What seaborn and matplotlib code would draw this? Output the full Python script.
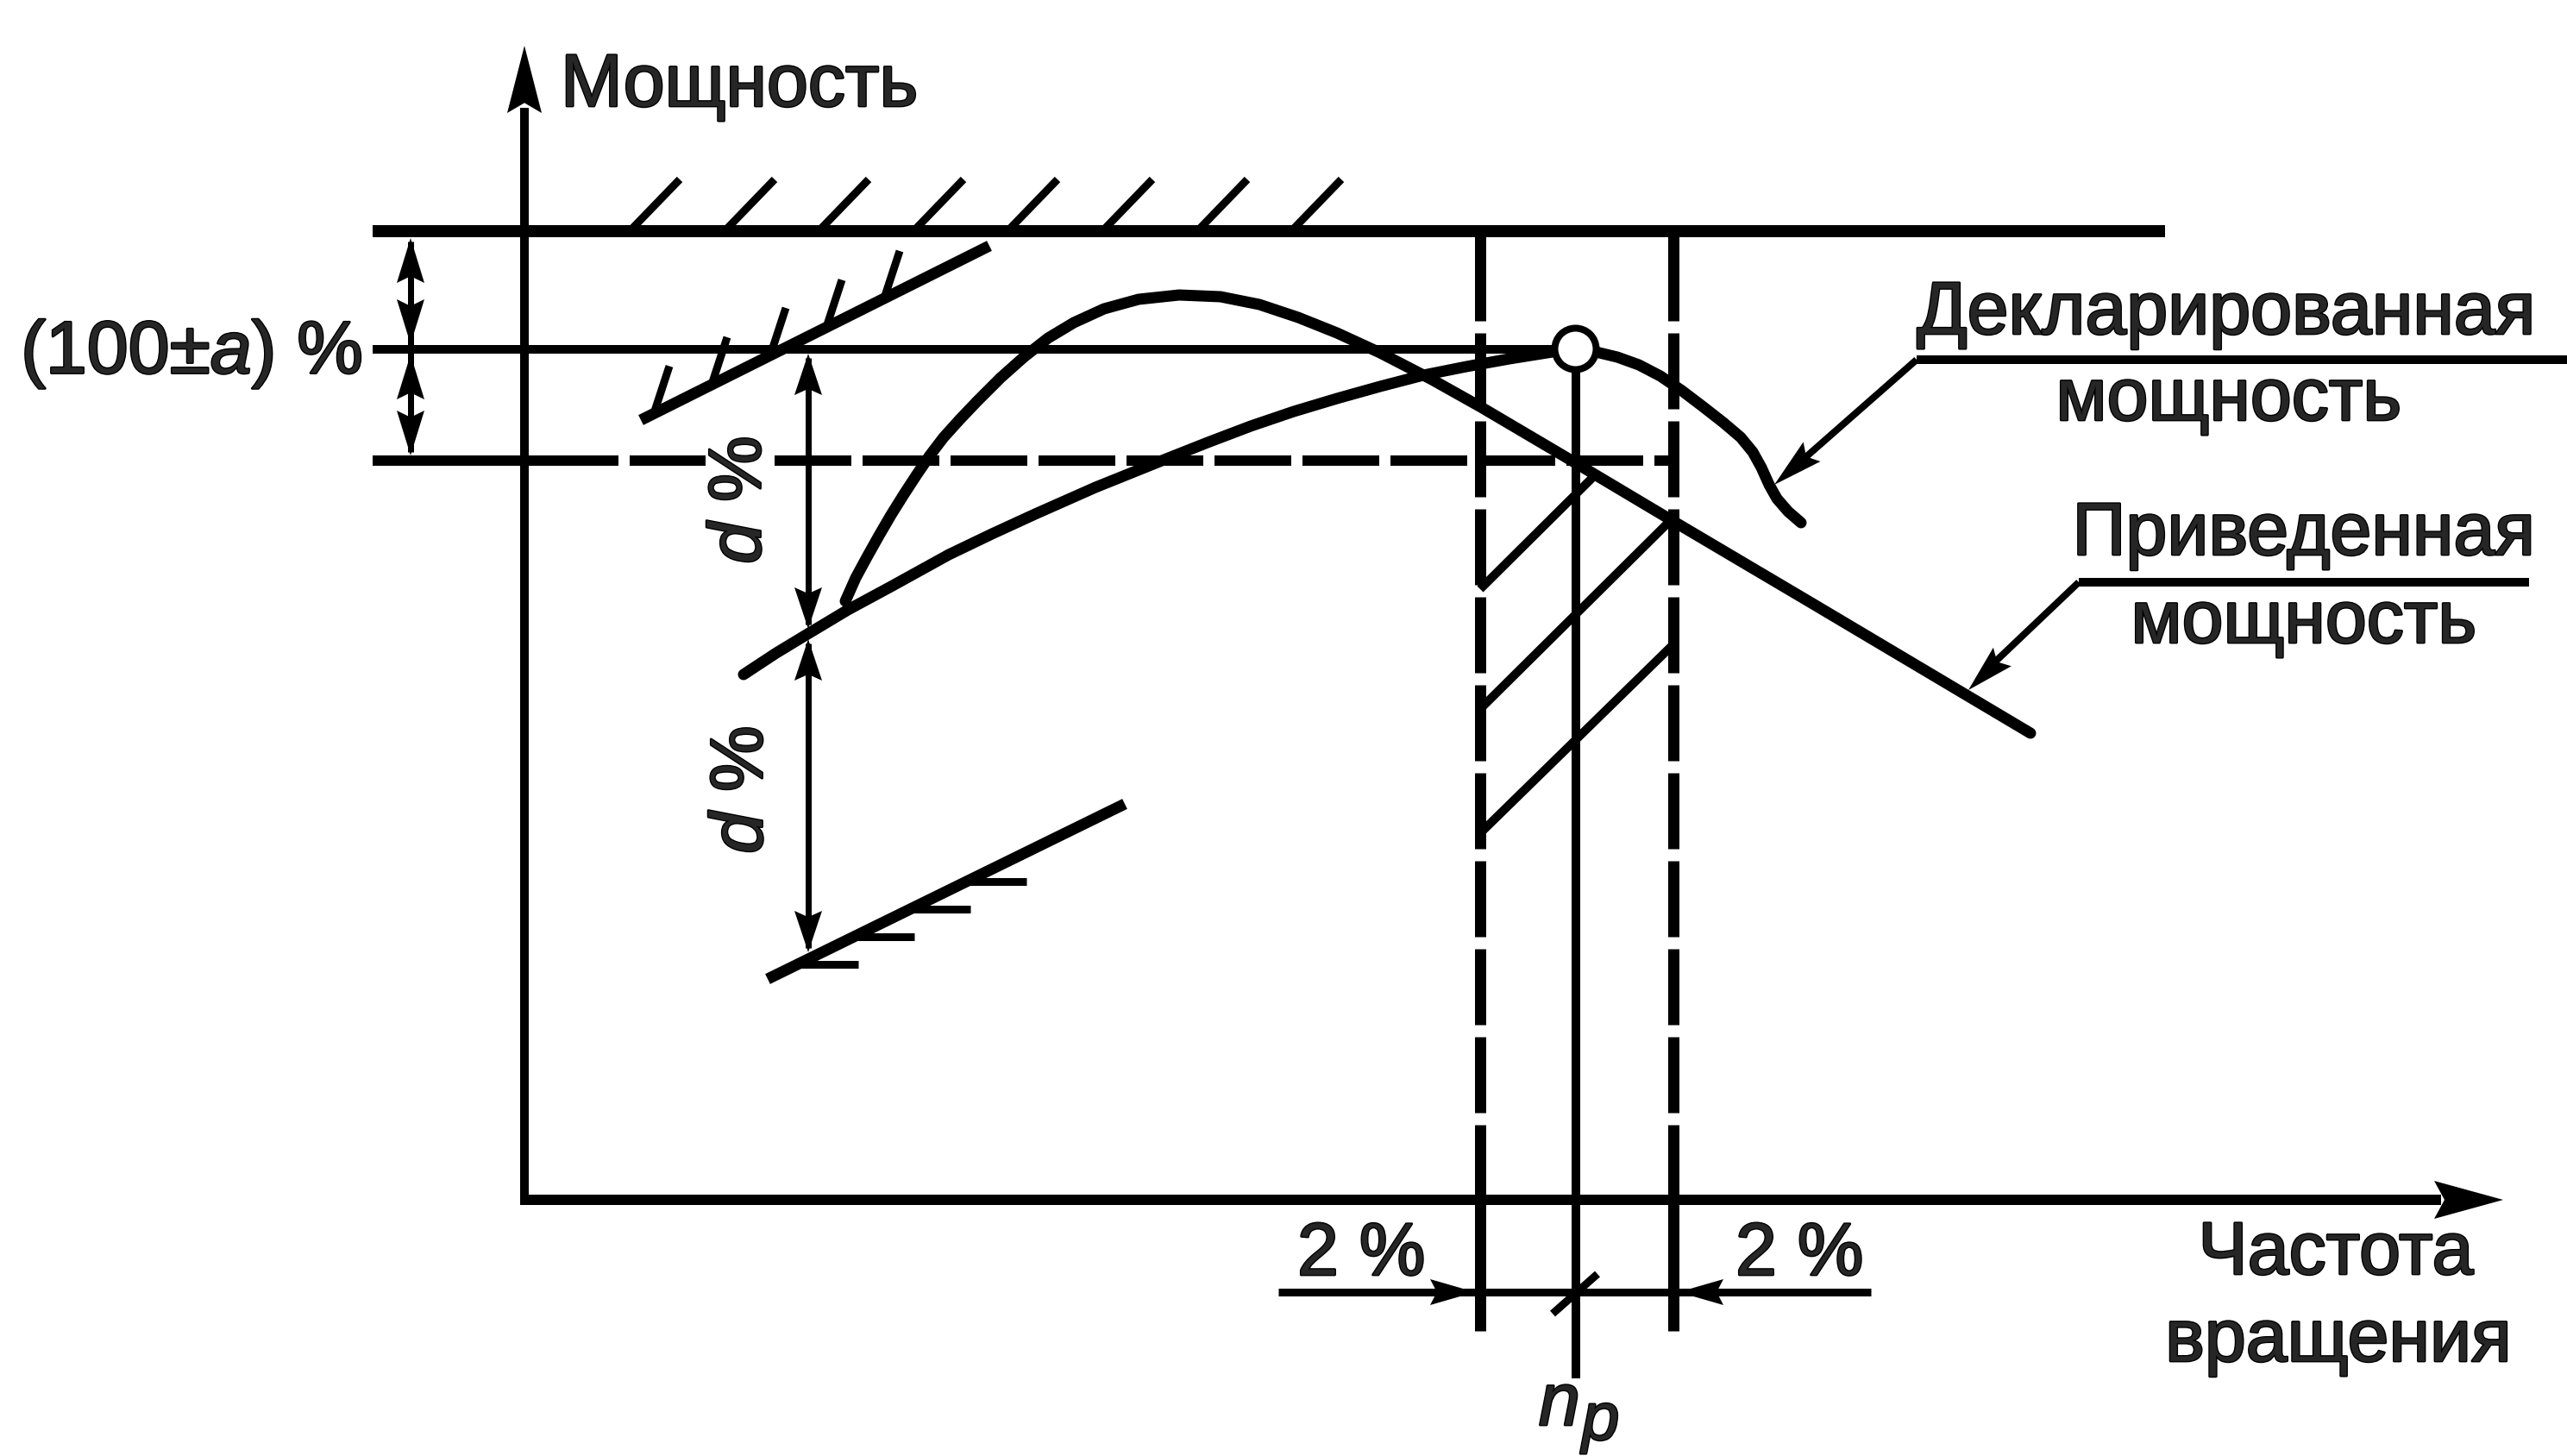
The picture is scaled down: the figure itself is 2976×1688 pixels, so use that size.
import matplotlib
matplotlib.use("Agg")
import matplotlib.pyplot as plt
import matplotlib.patheffects as pe
import seaborn as sns

# the drawing is laid out on the pixel grid of the original sheet (y grows downward)
W, H, DPI = 2976, 1688, 100

# power levels (rows) and the coordinate axes
axis_x, axis_y = 608, 1391
top_level = 268          # upper limit
nominal_level = 405      # (100 +- a) %
low_level = 534          # lower tolerance (dashed)
left_start = 432

# speed band around n_p
band_left, band_right = 1716, 1940
n_p = 1827
dim_row = 1498

# reduced power curve ("Приведенная мощность")
reduced_x = [980, 992, 1005, 1019, 1033, 1048, 1063, 1078, 1094, 1113, 1133, 1160, 1187, 1215,
             1245, 1280, 1320, 1367, 1415, 1460, 1505, 1550, 1600, 1660, 1717, 1817, 1936, 2100, 2354]
reduced_y = [697, 670, 646, 621, 597, 573, 550, 528, 507, 486, 465, 438, 414, 392,
             374, 358, 347, 342, 344, 353, 368, 386, 409, 440, 472, 531, 602, 699, 850]

# declared power curve ("Декларированная мощность")
declared_x = [862, 900, 933, 983, 1033, 1100, 1150, 1200, 1270, 1347, 1400, 1450, 1500, 1550,
              1600, 1650, 1700, 1750, 1800, 1826, 1850, 1875, 1900, 1925, 1950, 1975, 1998,
              2018, 2032, 2042, 2051, 2060, 2073, 2088]
declared_y = [782, 757, 737, 707, 680, 643, 619, 596, 565, 534, 513, 494, 477, 462,
              448, 435, 425, 416, 408, 404, 408, 414, 423, 436, 453, 472, 490,
              507, 524, 542, 562, 578, 593, 606]
declared_point = (1826, 404)

# limit lines for the d % tolerance
upper_limit_x, upper_limit_y = [743, 1147], [487, 285]
lower_limit_x, lower_limit_y = [890, 1304], [1135, 932]

# hatch ticks
top_hatch_x = [730, 840, 949, 1059, 1168, 1278, 1388, 1497]
upper_hatch_x = [758, 825, 893, 958, 1025]
lower_hatch_x = [925, 990, 1055, 1120]
band_hatch = [((1716, 683), (1850, 550)),
              ((1716, 822), (1940, 600)),
              ((1716, 966), (1940, 747))]

# d % dimension lines
d_x = 937
d_marks = [410, 729, 741, 1104]

# callouts
labels_declared = ["Декларированная", "мощность"]
labels_reduced = ["Приведенная", "мощность"]
label_speed = ["Частота", "вращения"]
label_power = "Мощность"

FS = 62
BLACK = "black"
HEAVY = [pe.withStroke(linewidth=2.0, foreground=BLACK)]


def pt(px):
    return px * 72.0 / DPI


def head(ax, tip, toward, length=50, half=15):
    # filled arrowhead with a small notch, pointing from 'toward' to 'tip'
    tx, ty = tip
    dx, dy = tx - toward[0], ty - toward[1]
    n = (dx * dx + dy * dy) ** 0.5
    dx, dy = dx / n, dy / n
    bx, by = tx - dx * length, ty - dy * length
    mx, my = tx - dx * length * 0.85, ty - dy * length * 0.85
    nx, ny = -dy, dx
    ax.fill([tx, bx + nx * half, mx, bx - nx * half],
            [ty, by + ny * half, my, by - ny * half],
            color=BLACK, lw=0, zorder=6)


def seg(ax, xs, ys, w, **kw):
    ax.plot(xs, ys, color=BLACK, lw=pt(w), solid_capstyle="butt", **kw)


def label(ax, x, y, s, **kw):
    kw.setdefault("fontsize", FS)
    kw.setdefault("va", "baseline")
    ax.text(x, y, s, path_effects=HEAVY, **kw)


def line_y(xs, ys, x):
    return ys[0] + (ys[1] - ys[0]) * (x - xs[0]) / (xs[1] - xs[0])


def main():
    sns.set_theme(style="white")
    plt.rcParams["font.family"] = ["Liberation Sans", "DejaVu Sans"]
    plt.rcParams["mathtext.fontset"] = "custom"
    plt.rcParams["mathtext.rm"] = "Liberation Sans"
    plt.rcParams["mathtext.it"] = "Liberation Sans:italic"
    plt.rcParams["lines.scale_dashes"] = False

    fig = plt.figure(figsize=(W / DPI, H / DPI), dpi=DPI)
    ax = fig.add_axes([0, 0, 1, 1])
    ax.set_xlim(0, W)
    ax.set_ylim(H, 0)
    ax.axis("off")

    # axes with arrows
    seg(ax, [axis_x, axis_x], [axis_y + 6, 125], 10)
    head(ax, (axis_x, 53), (axis_x, 200), length=78, half=20)
    seg(ax, [axis_x - 5, 2830], [axis_y, axis_y], 12)
    head(ax, (2902, axis_y), (2700, axis_y), length=80, half=22)
    label(ax, 650, 123, label_power, ha="left")

    # horizontal levels
    seg(ax, [left_start, 2510], [top_level, top_level], 14)
    seg(ax, [left_start, 1805], [nominal_level, nominal_level], 10)
    ax.plot([left_start, band_right], [low_level, low_level], color=BLACK, lw=pt(12),
            dashes=[pt(v) for v in [285, 13, 88, 80] + [89, 13] * 20])

    # hatching over the upper limit
    for x in top_hatch_x:
        seg(ax, [x, x + 58], [top_level, top_level - 60], 9)

    # vertical band lines (dashed) and n_p
    vdash = [pt(v) for v in [104, 14] + [88, 14] * 9 + [400, 10]]
    for x in (band_left, band_right):
        ax.plot([x, x], [top_level, 1543], color=BLACK, lw=pt(13), dashes=vdash)
    seg(ax, [n_p, n_p], [declared_point[1], 1598], 10)

    # hatching in the band below the tolerance
    for (x0, y0), (x1, y1) in band_hatch:
        seg(ax, [x0, x1], [y0, y1], 10)

    # limit lines for d % with their hatching
    seg(ax, upper_limit_x, upper_limit_y, 13)
    for x in upper_hatch_x:
        y = line_y(upper_limit_x, upper_limit_y, x)
        seg(ax, [x, x + 18], [y, y - 55], 9)
    seg(ax, lower_limit_x, lower_limit_y, 13)
    for x in lower_hatch_x:
        y = line_y(lower_limit_x, lower_limit_y, x)
        seg(ax, [x, x + 70], [y, y], 9)

    # power curves
    sns.lineplot(x=reduced_x, y=reduced_y, sort=False, estimator=None, color=BLACK,
                 linewidth=pt(13), ax=ax, zorder=4)
    sns.lineplot(x=declared_x, y=declared_y, sort=False, estimator=None, color=BLACK,
                 linewidth=pt(13), ax=ax, zorder=4)
    ax.plot(*declared_point, "o", ms=pt(48), mfc="white", mec=BLACK, mew=pt(8), zorder=7)

    # (100 +- a) % dimension
    seg(ax, [476, 476], [280, 524], 7)
    head(ax, (476, 276), (476, 330), length=52, half=16)
    head(ax, (476, 399), (476, 340), length=52, half=16)
    head(ax, (476, 411), (476, 470), length=52, half=16)
    head(ax, (476, 528), (476, 470), length=52, half=16)
    label(ax, 420, 433, r"(100±$\mathit{a}$) %", ha="right")

    # d % dimensions
    seg(ax, [d_x, d_x], [d_marks[0] + 5, d_marks[1] - 5], 7)
    seg(ax, [d_x, d_x], [d_marks[2] + 5, d_marks[3] - 5], 7)
    head(ax, (d_x, d_marks[0]), (d_x, 500), length=48, half=16)
    head(ax, (d_x, d_marks[1]), (d_x, 600), length=48, half=16)
    head(ax, (d_x, d_marks[2]), (d_x, 900), length=48, half=16)
    head(ax, (d_x, d_marks[3]), (d_x, 900), length=48, half=16)
    label(ax, 860, 580, r"$\mathit{d}$ %", rotation=90, ha="center", va="center")
    label(ax, 862, 916, r"$\mathit{d}$ %", rotation=90, ha="center", va="center")

    # +-2 % dimension at the bottom
    seg(ax, [1482, 2169], [dim_row, dim_row], 9)
    head(ax, (band_left - 6, dim_row), (1500, dim_row), length=52, half=15)
    head(ax, (band_right + 6, dim_row), (2150, dim_row), length=52, half=15)
    seg(ax, [1800, 1852], [1523, 1477], 9)
    label(ax, 1504, 1478, "2 %", ha="left")
    label(ax, 2012, 1478, "2 %", ha="left")
    label(ax, 1784, 1652, "n", style="italic", ha="left")
    label(ax, 1834, 1669, "p", fontsize=FS - 6, style="italic", ha="left")

    # speed axis label
    label(ax, 2708, 1477, label_speed[0], ha="center")
    label(ax, 2711, 1578, label_speed[1], ha="center")

    # callouts with leaders
    seg(ax, [2222, 2976], [417, 417], 10)
    seg(ax, [2222, 2090], [417, 533], 8)
    head(ax, (2057, 562), (2222, 417), length=58, half=15)
    label(ax, 2581, 387, labels_declared[0], ha="center")
    label(ax, 2584, 487, labels_declared[1], ha="center")

    seg(ax, [2410, 2932], [675, 675], 10)
    seg(ax, [2410, 2307], [675, 773], 8)
    head(ax, (2282, 800), (2410, 675), length=55, half=15)
    label(ax, 2671, 643, labels_reduced[0], ha="center")
    label(ax, 2671, 745, labels_reduced[1], ha="center")

    fig.savefig("out.png", dpi=DPI, facecolor="white")


if __name__ == "__main__":
    main()
